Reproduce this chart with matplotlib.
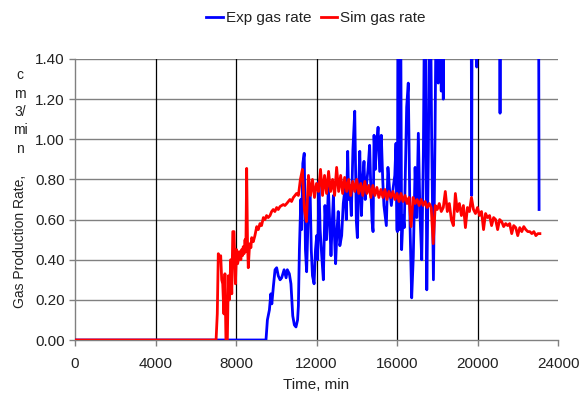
import numpy as np
import matplotlib
matplotlib.use("Agg")
import matplotlib.pyplot as plt

plt.rcParams['font.family'] = ['Liberation Sans', 'DejaVu Sans']

# experimental gas rate (cm3/min) against time (min); values above 1.4 run off the chart
exp_t = [0, 9490, 9560, 9660, 9730, 9780, 9860, 9940, 10020, 10100, 10190, 10270,
         10390, 10490, 10550, 10650, 10730, 10820, 10900, 10980, 11060, 11100, 11150,
         11220, 11260, 11320, 11390, 11450, 11510, 11580, 11680, 11740, 11800, 11880,
         11950, 12010, 12060, 12120, 12180, 12260, 12340, 12420, 12500, 12590, 12650,
         12720, 12780, 12840, 12900, 12950, 13020, 13080, 13160, 13250, 13330, 13420,
         13480, 13550, 13600, 13650, 13730, 13810, 13900, 13950, 13980, 14030, 14090,
         14150, 14230, 14300, 14360, 14420, 14470, 14560, 14640, 14700, 14760, 14810,
         14860, 14920, 14970, 15060, 15140, 15220, 15290, 15350, 15410, 15470, 15550,
         15630, 15720, 15800, 15890, 15950, 15990, 16020, 16060, 16120, 16170, 16230,
         16300, 16360, 16480, 16560, 16650, 16730, 16810, 16900, 16980, 17060, 17140,
         17230, 17310, 17390, 17480, 17560, 17640, 17720, 17810, 17890, 17970, 18050,
         18130, 18200, 18250, 18300, 18360, 19680, 19710, 19740, 19960, 20000, 21090,
         21120, 21150, 23030, 23060]
exp_v = [0, 0, 0.10, 0.15, 0.23, 0.18, 0.27, 0.35, 0.36, 0.32, 0.30, 0.31,
         0.35, 0.31, 0.35, 0.33, 0.28, 0.12, 0.075, 0.065, 0.10, 0.17, 0.45,
         0.70, 0.55, 0.88, 0.93, 0.45, 0.34, 0.60, 0.76, 0.45, 0.32, 0.28,
         0.45, 0.52, 0.40, 0.79, 0.55, 0.42, 0.30, 0.67, 0.50, 0.76, 0.60,
         0.42, 0.58, 0.72, 0.50, 0.38, 0.55, 0.64, 0.47, 0.52, 0.68, 0.76,
         0.60, 0.94, 0.70, 0.77, 0.62, 0.95, 1.14, 0.80, 0.59, 0.51, 0.75,
         0.94, 0.62, 0.80, 0.89, 0.70, 0.76, 0.85, 0.97, 0.75, 0.59, 0.54,
         1.02, 0.85, 0.96, 1.06, 0.84, 1.02, 0.80, 0.67, 0.62, 0.57, 0.86,
         0.75, 0.67, 0.75, 0.82, 0.98, 0.55, 0.54, 2.0, 0.55, 2.0, 0.45,
         0.62, 0.56, 1.16, 1.28, 0.56, 0.21, 0.415, 0.86, 0.61, 1.03, 0.63,
         0.40, 0.93, 2.0, 0.25, 0.95, 2.0, 1.03, 0.30, 1.02, 2.0, 1.28,
         2.0, 1.24, 2.0, 1.20, 2.0, 2.0, 0.72, 2.0, 1.36, 2.0, 2.0,
         1.13, 2.0, 2.0, 0.65]

# simulated gas rate: start-up part
sim_t_start = [0, 7010, 7070, 7120, 7180, 7240, 7290, 7340, 7400, 7450, 7500, 7570,
               7620, 7670, 7740, 7790, 7840, 7900, 7970, 8030, 8080, 8120, 8160, 8200,
               8240, 8280, 8320, 8360, 8400, 8450, 8490, 8530, 8570, 8610, 8660, 8700,
               8740, 8780, 8860, 8940, 9030, 9110, 9190, 9270, 9360, 9440, 9520, 9600,
               9690, 9770, 9850, 9930, 10020, 10100, 10190, 10270, 10350, 10430, 10520,
               10600, 10680, 10760, 10850, 10930, 11010]
sim_v_start = [0, 0, 0.13, 0.43, 0.40, 0.42, 0.30, 0.28, 0.13, 0.33, 0, 0,
               0.32, 0.20, 0.40, 0.23, 0.54, 0.54, 0.28, 0.45, 0.38, 0.40, 0.44, 0.43,
               0.40, 0.45, 0.42, 0.465, 0.43, 0.50, 0.44, 0.855, 0.50, 0.36, 0.45, 0.48,
               0.46, 0.51, 0.49, 0.52, 0.565, 0.55, 0.58, 0.57, 0.61, 0.60, 0.62, 0.61,
               0.62, 0.64, 0.65, 0.64, 0.66, 0.65, 0.665, 0.67, 0.675, 0.67, 0.68,
               0.69, 0.70, 0.69, 0.71, 0.72, 0.73]

# simulated gas rate: every 100 min from 11100 to 23100
sim_v_late = [0.72, 0.80, 0.85, 0.65, 0.59, 0.82, 0.72, 0.80, 0.71, 0.78,
              0.74, 0.85, 0.72, 0.82, 0.73, 0.84, 0.74, 0.80, 0.72, 0.86,
              0.74, 0.82, 0.73, 0.81, 0.74, 0.80, 0.72, 0.79, 0.74, 0.80,
              0.73, 0.78, 0.72, 0.79, 0.73, 0.77, 0.71, 0.77, 0.72, 0.76,
              0.71, 0.75, 0.71, 0.75, 0.70, 0.74, 0.71, 0.74, 0.70, 0.73,
              0.69, 0.73, 0.69, 0.72, 0.68, 0.71, 0.565, 0.71, 0.68, 0.70,
              0.67, 0.70, 0.67, 0.69, 0.66, 0.68, 0.66, 0.48, 0.67, 0.65,
              0.68, 0.64, 0.66, 0.74, 0.64, 0.68, 0.60, 0.57, 0.73, 0.64,
              0.68, 0.62, 0.67, 0.56, 0.66, 0.64, 0.71, 0.65, 0.63, 0.66,
              0.62, 0.64, 0.55, 0.63, 0.61, 0.62, 0.57, 0.61, 0.60, 0.55,
              0.60, 0.59, 0.565, 0.58, 0.57, 0.58, 0.53, 0.57, 0.56, 0.52,
              0.56, 0.54, 0.565, 0.55, 0.54, 0.54, 0.53, 0.54, 0.52, 0.53,
              0.53]
sim_t_late = list(range(11100, 23101, 100))

sim_t = sim_t_start + sim_t_late
sim_v = sim_v_start + sim_v_late

x_ticks = [0, 4000, 8000, 12000, 16000, 20000, 24000]
y_ticks = [0.0, 0.2, 0.4, 0.6, 0.8, 1.0, 1.2, 1.4]

fs = 11
fs_ylab = 10
txt = '#222222'

fig = plt.figure(figsize=(5.83, 3.94), dpi=100)
ax = fig.add_axes([75 / 583, 54 / 394, 483 / 583, 281 / 394])

ax.plot(exp_t, exp_v, color='#0000ff', lw=2.0, label='Exp gas rate', zorder=3)
ax.plot(sim_t, sim_v, color='#ff0000', lw=2.0, label='Sim gas rate', zorder=4)

ax.set_xlim(0, 24000)
ax.set_ylim(0, 1.4)
ax.set_xticks(x_ticks)
ax.set_yticks(y_ticks)
ax.set_yticklabels([f'{v:.2f}' for v in y_ticks])

for v in y_ticks[1:]:
    ax.axhline(v, color='#808080', lw=1, zorder=1)
for v in x_ticks[1:-1]:
    ax.axvline(v, color='#000000', lw=0.9, zorder=1)

for s in ['top', 'right']:
    ax.spines[s].set_visible(False)
for s in ['left', 'bottom']:
    ax.spines[s].set_color('#808080')
    ax.spines[s].set_linewidth(1)
ax.tick_params(colors='#808080', labelcolor=txt, labelsize=fs, length=4, width=1)
ax.tick_params(axis='x', pad=8)

ax.set_xlabel('Time, min', fontsize=fs, color=txt, labelpad=5)

# y label wraps into a stacked unit above the rotated part
fig.text(20 / 583, 1 - 241 / 394, 'Gas Production Rate,', rotation=90,
         ha='center', va='center', fontsize=fs_ylab, color=txt)
fig.text(20 / 583, 1 - 112 / 394, 'c\nm\n3/\nmi\nn', ha='center', va='center',
         multialignment='center', linespacing=1.4, fontsize=fs_ylab, color=txt)

fig.legend(loc='center', bbox_to_anchor=(316 / 583, 1 - 18 / 394), ncol=2,
           frameon=False, fontsize=fs, handlelength=1.1, handletextpad=0.2,
           columnspacing=0.6, labelcolor=txt)

fig.savefig('out.png', dpi=100)
